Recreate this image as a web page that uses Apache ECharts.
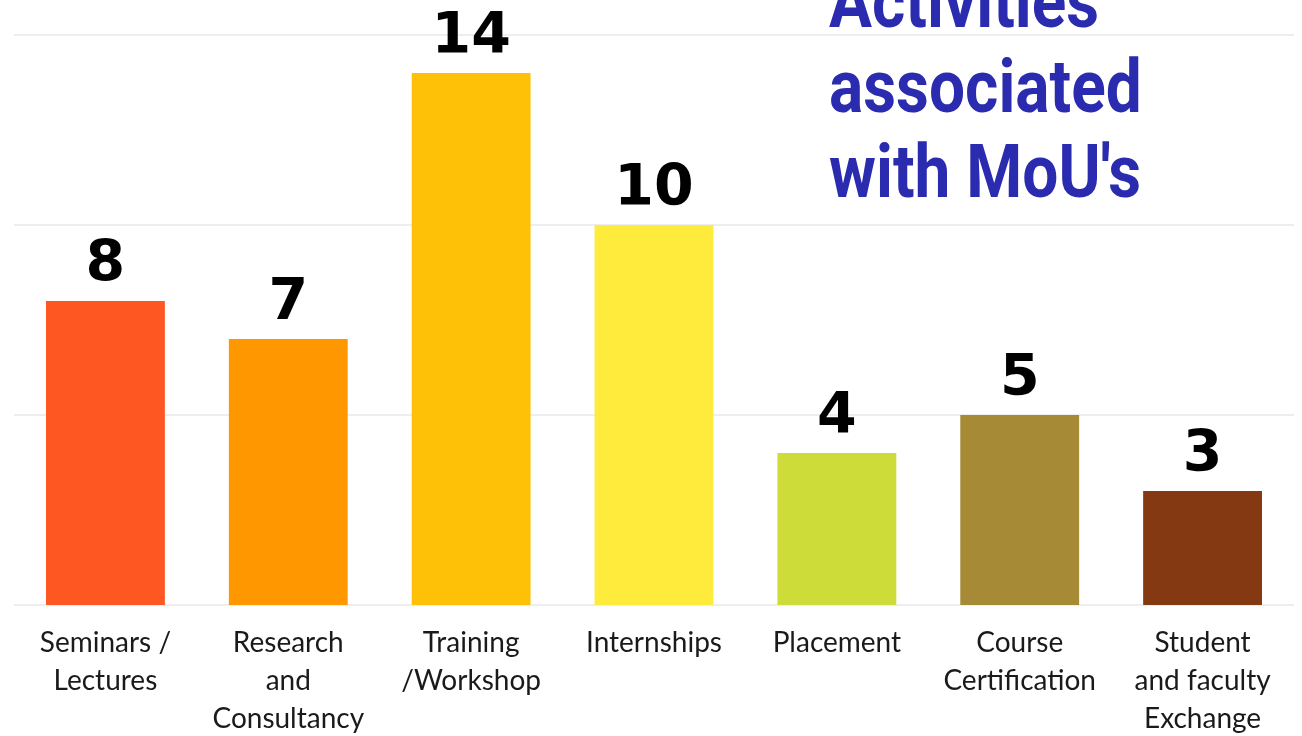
<!DOCTYPE html>
<html>
<head>
<meta charset="utf-8">
<script src="https://cdn.jsdelivr.net/npm/echarts@6/dist/echarts.min.js"></script>
<style>html,body{margin:0;padding:0;background:#fff}#c{width:1302px;height:736px}</style>
</head>
<body>
<div id="c"></div>
<script>
const categories = ['Seminars /\nLectures', 'Research\nand\nConsultancy', 'Training\n/Workshop', 'Internships', 'Placement', 'Course\nCertification', 'Student\nand faculty\nExchange'];
const values = [8, 7, 14, 10, 4, 5, 3];
const barColors = ['#FF5722', '#FF9800', '#FFC107', '#FFEB3B', '#CDDC39', '#A68A36', '#843912'];
const titleText = "Activities\nassociated\nwith MoU's";

const chart = echarts.init(document.getElementById('c'), null, {renderer: 'canvas'});
chart.setOption({
  animation: false,
  backgroundColor: '#ffffff',
  graphic: [{
    type: 'text',
    x: 829,
    y: -34,
    scaleX: 0.853,
    z: 10,
    style: {
      text: titleText,
      font: 'bold 75px Roboto, sans-serif',
      lineHeight: 85,
      fill: '#2B2BB0',
      textAlign: 'left',
      textVerticalAlign: 'top'
    }
  }],
  grid: {left: 14, right: 8, top: 35, bottom: 131, containLabel: false, outerBoundsMode: 'none'},
  xAxis: {
    type: 'category',
    data: categories,
    axisLine: {show: false},
    axisTick: {show: false},
    axisLabel: {
      interval: 0,
      margin: 19,
      fontFamily: 'Lato, "Noto Sans", sans-serif',
      fontSize: 28,
      lineHeight: 38,
      color: '#1a1a1a'
    }
  },
  yAxis: {
    type: 'value',
    min: 0,
    max: 15,
    interval: 5,
    axisLabel: {show: false},
    axisLine: {show: false},
    axisTick: {show: false},
    splitLine: {lineStyle: {color: '#eeeeee', width: 2}}
  },
  series: [{
    type: 'bar',
    barWidth: '65%',
    data: values.map((v, i) => ({value: v, itemStyle: {color: barColors[i]}})),
    label: {
      show: true,
      position: 'top',
      distance: 6,
      fontFamily: '"DejaVu Sans", sans-serif',
      fontWeight: 'bold',
      fontSize: 57,
      lineHeight: 57,
      color: '#000000'
    }
  }]
});
</script>
</body>
</html>
